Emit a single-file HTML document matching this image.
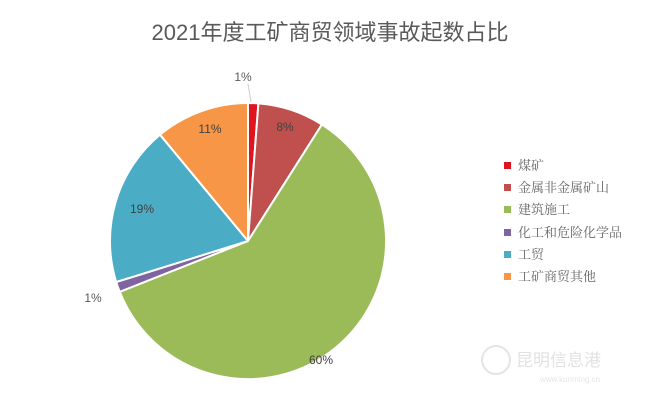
<!DOCTYPE html>
<html><head><meta charset="utf-8"><style>
body{margin:0;background:#fff;}
svg{display:block;}
text{font-family:"Liberation Sans","Noto Sans CJK SC",sans-serif;}
</style></head><body>
<svg width="670" height="403" viewBox="0 0 670 403" xmlns="http://www.w3.org/2000/svg">
<rect width="670" height="403" fill="#fff"/>
<text x="330" y="40" font-size="22" fill="#595959" text-anchor="middle">2021年度工矿商贸领域事故起数占比</text>
<g stroke="#fff" stroke-width="2" stroke-linejoin="round">
<path d="M248,241 L248,103 A138,138 0 0 1 258.4,103.4 Z" fill="#e0141e"/>
<path d="M248,241 L258.4,103.4 A138,138 0 0 1 321.9,124.5 Z" fill="#c0504d"/>
<path d="M248,241 L321.9,124.5 A138,138 0 1 1 119.7,291.8 Z" fill="#9bbb59"/>
<path d="M248,241 L119.7,291.8 A138,138 0 0 1 116.2,282.0 Z" fill="#8064a2"/>
<path d="M248,241 L116.2,282.0 A138,138 0 0 1 160.0,134.7 Z" fill="#4bacc6"/>
<path d="M248,241 L160.0,134.7 A138,138 0 0 1 248,103 Z" fill="#f79646"/>
</g>
<line x1="248" y1="84" x2="251" y2="102" stroke="#ccc" stroke-width="1"/>
<g font-size="12" fill="#404040" text-anchor="middle">
<text x="243" y="81" fill="#595959">1%</text>
<text x="285" y="131">8%</text>
<text x="210" y="133">11%</text>
<text x="142" y="213">19%</text>
<text x="93" y="302" fill="#595959">1%</text>
<text x="321" y="364">60%</text>
</g>
<g font-size="13" fill="#666" font-family="'Noto Serif CJK SC',serif">
<rect x="504" y="162" width="7" height="7" fill="#e0141e"/><text x="518" y="170" style="font-family:'Noto Serif CJK SC',serif">煤矿</text>
<rect x="504" y="184" width="7" height="7" fill="#c0504d"/><text x="518" y="192" style="font-family:'Noto Serif CJK SC',serif">金属非金属矿山</text>
<rect x="504" y="206" width="7" height="7" fill="#9bbb59"/><text x="518" y="214" style="font-family:'Noto Serif CJK SC',serif">建筑施工</text>
<rect x="504" y="229" width="7" height="7" fill="#8064a2"/><text x="518" y="237" style="font-family:'Noto Serif CJK SC',serif">化工和危险化学品</text>
<rect x="504" y="251" width="7" height="7" fill="#4bacc6"/><text x="518" y="259" style="font-family:'Noto Serif CJK SC',serif">工贸</text>
<rect x="504" y="273" width="7" height="7" fill="#f79646"/><text x="518" y="281" style="font-family:'Noto Serif CJK SC',serif">工矿商贸其他</text>
</g>
<circle cx="496" cy="360" r="14" fill="none" stroke="#e4e4e4" stroke-width="2"/>
<text x="516" y="366" font-size="17" fill="#e2e2e2">昆明信息港</text>
<text x="540" y="382" font-size="8" fill="#e6e6e6">www.kunming.cn</text>
</svg>
</body></html>
